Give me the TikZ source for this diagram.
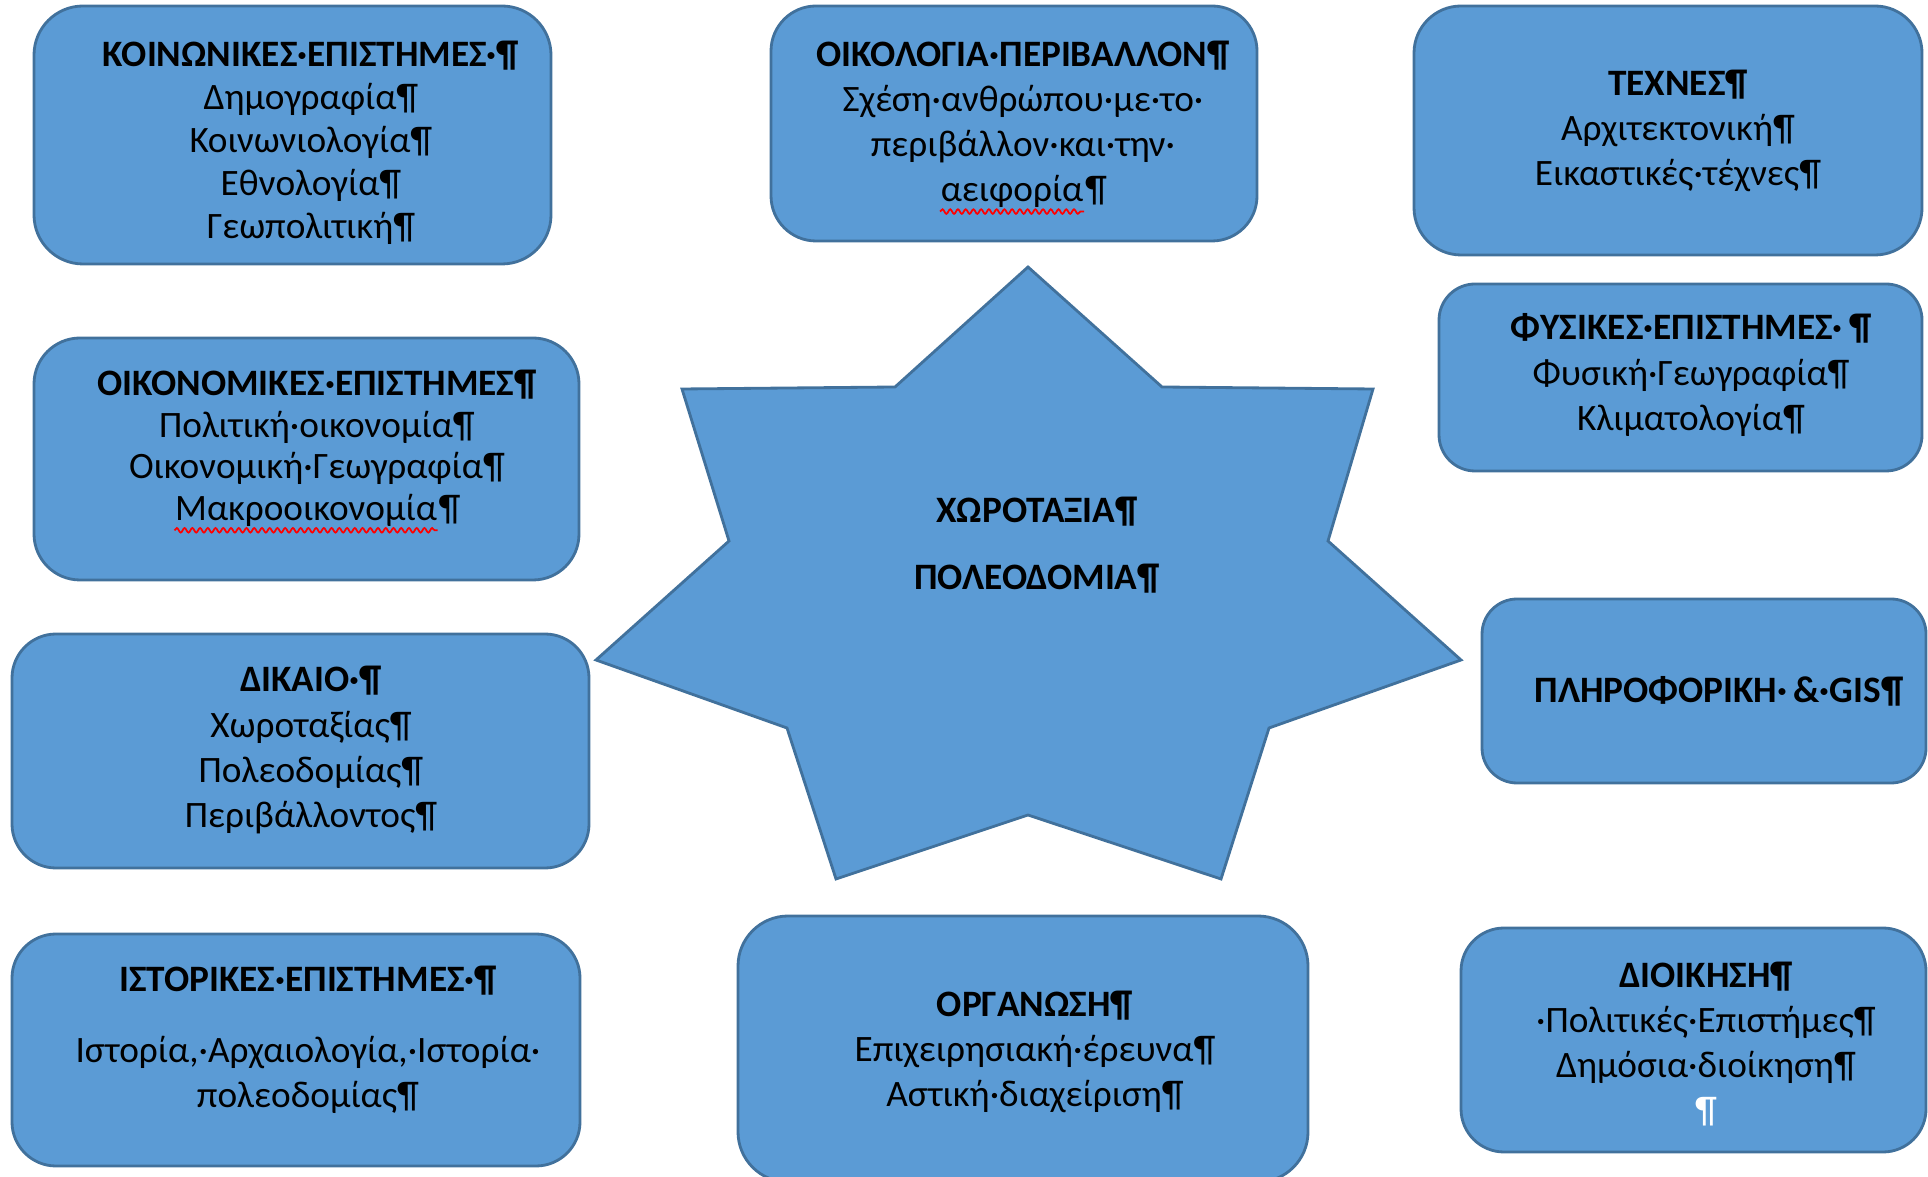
\documentclass[tikz,border=0pt]{standalone}
\usepackage{fontspec}
\setmainfont{Carlito}
\usetikzlibrary{decorations.pathmorphing}

\definecolor{boxfill}{HTML}{5B9BD5}
\definecolor{boxline}{HTML}{41719C}
% red spell-check wave under a word
\newcommand{\squig}[1]{\tikz[baseline=(w.base)]{\node (w) {#1};
  \draw [red, line width=0.5pt, decorate, decoration={snake, amplitude=0.65pt, segment length=2.2pt}] ([yshift=-2.8pt]w.base west) -- ([yshift=-2.8pt]w.base east);}}

\tikzset{
  rbox/.style={draw=boxline, fill=boxfill, line width=0.8pt, rounded corners=#1},
  every node/.style={inner sep=0pt, align=center, font=\fontsize{10.6}{12.8}\selectfont},
  tight/.style={font=\fontsize{10.6}{#1}\selectfont}
}

\begin{document}
\begin{tikzpicture}[x=0.01cm,y=-0.01cm]
\useasboundingbox (0,0) rectangle (1928,1177);
% central star
\draw [boxline, fill=boxfill, line width=0.8pt] (1028,267) -- (1162,387) -- (1373,389) -- (1328,541) -- (1461,660) -- (1269,728) -- (1221,879) -- (1028,815) -- (836,879) -- (787,728) -- (596,660) -- (729,541) -- (682,389) -- (895,387) -- cycle;
\node (planning) at (1037,545) {\textbf{ΧΩΡΟΤΑΞΙΑ¶}\\[6.2pt]\textbf{ΠΟΛΕΟΔΟΜΙΑ¶}};
% left column
\draw [rbox=0.49cm] (34,6) rectangle (551,264);
\node [tight=12.2pt] (social) at (311,143) {\textbf{ΚΟΙΝΩΝΙΚΕΣ·ΕΠΙΣΤΗΜΕΣ·¶}\\Δημογραφία¶\\Κοινωνιολογία¶\\Εθνολογία¶\\Γεωπολιτική¶};
\draw [rbox=0.46cm] (34,338) rectangle (579,580);
\node [tight=11.8pt] (economic) at (317,452) {\textbf{ΟΙΚΟΝΟΜΙΚΕΣ·ΕΠΙΣΤΗΜΕΣ¶}\\Πολιτική·οικονομία¶\\Οικονομική·Γεωγραφία¶\\\squig{Μακροοικονομία}¶};
\draw [rbox=0.44cm] (12,634) rectangle (589,868);
\node (law) at (311,750) {\textbf{ΔΙΚΑΙΟ·¶}\\Χωροταξίας¶\\Πολεοδομίας¶\\Περιβάλλοντος¶};
\draw [rbox=0.44cm] (12,934) rectangle (580,1166);
\node (history) at (308,1040) {\textbf{ΙΣΤΟΡΙΚΕΣ·ΕΠΙΣΤΗΜΕΣ·¶}\\[7.4pt]Ιστορία,·Αρχαιολογία,·Ιστορία·\\πολεοδομίας¶};
% middle column
\draw [rbox=0.45cm] (771,6) rectangle (1257,241);
\node (ecology) at (1023,128) {\textbf{ΟΙΚΟΛΟΓΙΑ·ΠΕΡΙΒΑΛΛΟΝ¶}\\Σχέση·ανθρώπου·με·το·\\περιβάλλον·και·την·\\\squig{αειφορία}¶};
\draw [rbox=0.50cm] (738,916) rectangle (1308,1182);
\node (organisation) at (1035,1052) {\textbf{ΟΡΓΑΝΩΣΗ¶}\\Επιχειρησιακή·έρευνα¶\\Αστική·διαχείριση¶};
% right column
\draw [rbox=0.47cm] (1414,6) rectangle (1922,255);
\node (arts) at (1678,131) {\textbf{ΤΕΧΝΕΣ¶}\\Αρχιτεκτονική¶\\Εικαστικές·τέχνες¶};
\draw [rbox=0.36cm] (1439,284) rectangle (1922,471);
\node (physical) at (1691,375) {\textbf{ΦΥΣΙΚΕΣ·ΕΠΙΣΤΗΜΕΣ·\,¶}\\Φυσική·Γεωγραφία¶\\Κλιματολογία¶};
\draw [rbox=0.35cm] (1482,599) rectangle (1926,783);
\node (informatics) at (1719,691) {\textbf{ΠΛΗΡΟΦΟΡΙΚΗ·\,\&·GIS¶}};
\draw [rbox=0.43cm] (1461,928) rectangle (1926,1152);
\node (admin) at (1706,1044) {\textbf{ΔΙΟΙΚΗΣΗ¶}\\·Πολιτικές·Επιστήμες¶\\Δημόσια·διοίκηση¶\\\textcolor{white}{¶}};
\end{tikzpicture}
\end{document}
